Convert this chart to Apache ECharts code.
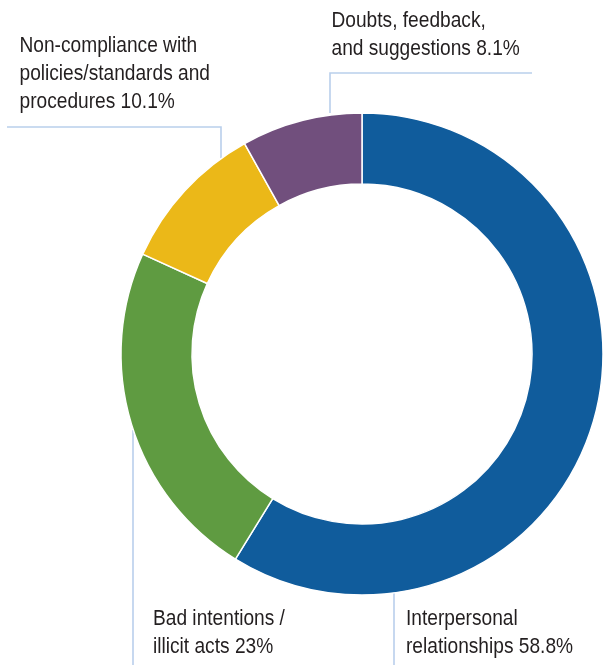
<!DOCTYPE html>
<html><head><meta charset="utf-8">
<script src="https://cdn.jsdelivr.net/npm/echarts@6/dist/echarts.min.js"></script>
<style>html,body{margin:0;padding:0;background:#fff}#c{width:603px;height:665px}</style>
</head><body><div id="c"></div>
<script>
const categories = ["Interpersonal relationships", "Bad intentions / illicit acts", "Non-compliance with policies/standards and procedures", "Doubts, feedback, and suggestions"];
const values = [58.8, 23, 10.1, 8.1];
const labelLines = [
  ["Interpersonal", "relationships 58.8%"],
  ["Bad intentions /", "illicit acts 23%"],
  ["Non-compliance with", "policies/standards and", "procedures 10.1%"],
  ["Doubts, feedback,", "and suggestions 8.1%"]
];
const colors = ["#105C9C", "#5F9B41", "#EBB818", "#714F7D"];

// label placement (positions only)
const labelPos = [
  {x: 406, y: 605, lh: 27.8},
  {x: 153, y: 605, lh: 27.8},
  {x: 19.5, y: 31.5, lh: 28.3},
  {x: 331.5, y: 7.5, lh: 27.6}
];
const leaderPts = [
  [[394, 593], [394, 665]],
  [[133, 430], [133, 665]],
  [[221, 158], [221, 127], [7, 127]],
  [[330, 113], [330, 73], [532, 73]]
];

const FONT = 'normal 22px "Liberation Sans", Arial, sans-serif';
const graphics = [];
leaderPts.forEach(pts => graphics.push({
  type: 'polyline', silent: true, z: 1,
  shape: {points: pts},
  style: {stroke: '#B9CFEC', lineWidth: 1.6, fill: null}
}));
labelLines.forEach((lines, i) => graphics.push({
  type: 'text', silent: true, z: 2,
  x: labelPos[i].x, y: labelPos[i].y, scaleX: 0.87,
  style: {
    text: lines.join('\n'), x: 0, y: 0,
    font: FONT, fill: '#231F20', lineHeight: labelPos[i].lh,
    textAlign: 'left', textVerticalAlign: 'top'
  }
}));

const chart = echarts.init(document.getElementById('c'), null, {renderer: 'canvas'});
chart.setOption({
  animation: false,
  graphic: graphics,
  series: [{
    type: 'pie',
    center: [362, 354],
    radius: [170, 241],
    startAngle: 90,
    clockwise: true,
    z: 3,
    itemStyle: {borderColor: '#fff', borderWidth: 1.5},
    label: {show: false},
    labelLine: {show: false},
    emphasis: {disabled: true},
    data: categories.map((c, i) => ({name: c, value: values[i], itemStyle: {color: colors[i]}}))
  }]
});
</script></body></html>
